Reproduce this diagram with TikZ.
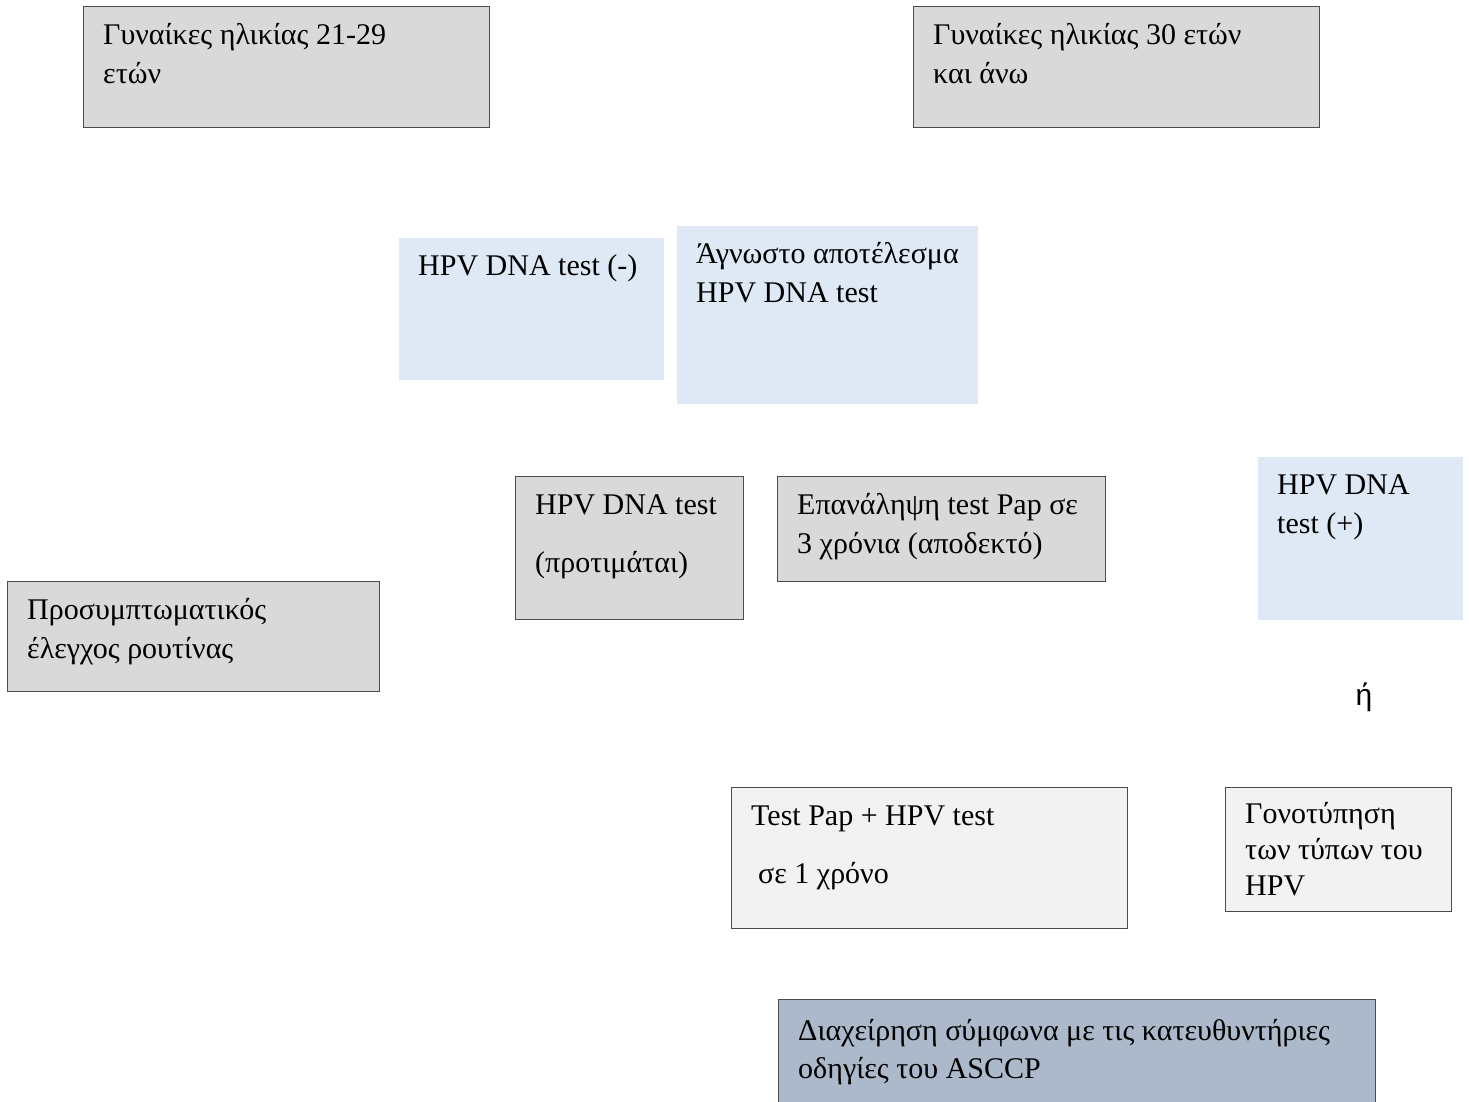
\documentclass[tikz,border=0pt]{standalone}
\usepackage{fontspec}
\setmainfont{Liberation Serif}
\newfontfamily\orfont{Liberation Sans}
\definecolor{boxgrey}{HTML}{D9D9D9}
\definecolor{boxblue}{HTML}{DEE9F5}
\definecolor{boxlight}{HTML}{F2F2F2}
\definecolor{boxslate}{HTML}{ACB9CA}
\tikzset{
  box/.style={anchor=north west, inner sep=0pt, draw=black!70, line width=1pt},
  greybox/.style={box, fill=boxgrey},
  bluebox/.style={box, draw=none, fill=boxblue},
  lightbox/.style={box, fill=boxlight},
  slatebox/.style={box, fill=boxslate},
  boxtext/.style={anchor=north west, align=left, inner sep=0pt, xshift=20pt, yshift=-11pt,
    font=\fontsize{30}{39}\selectfont}
}
\begin{document}
\begin{tikzpicture}[x=1pt,y=1pt]
\clip (0,0) rectangle (1469,-1102);
\fill[white] (0,0) rectangle (1469,-1102);
% age groups
\node[greybox, minimum width=406, minimum height=121,
  label={[boxtext]north west:{\strut Γυναίκες ηλικίας 21-29\\ετών}}] (age21) at (83,-6) {};
\node[greybox, minimum width=406, minimum height=121,
  label={[boxtext]north west:{\strut Γυναίκες ηλικίας 30 ετών\\και άνω}}] (age30) at (913,-6) {};
% HPV results
\node[bluebox, minimum width=265, minimum height=142,
  label={[boxtext]north west:{\strut HPV DNA test (-)}}] (hpvneg) at (398,-237) {};
\node[bluebox, minimum width=301, minimum height=178,
  label={[boxtext]north west:{\strut Άγνωστο αποτέλεσμα\\HPV DNA test}}] (unknown) at (676,-225) {};
\node[greybox, minimum width=228, minimum height=143,
  label={[boxtext]north west:{\strut HPV DNA test\\[19pt](προτιμάται)}}] (hpvpref) at (515,-476) {};
\node[greybox, minimum width=328, minimum height=105,
  label={[boxtext]north west:{\strut Επανάληψη test Pap σε\\3 χρόνια (αποδεκτό)}}] (paprepeat) at (777,-476) {};
\node[bluebox, minimum width=205, minimum height=163,
  label={[boxtext]north west:{\strut HPV DNA\\test (+)}}] (hpvpos) at (1257,-456) {};
\node[greybox, minimum width=372, minimum height=110,
  label={[boxtext]north west:{\strut Προσυμπτωματικός\\έλεγχος ρουτίνας}}] (routine) at (7,-581) {};
\node[font=\orfont\fontsize{30}{36}\selectfont] (or) at (1364,-697) {ή};
% follow-up
\node[lightbox, minimum width=396, minimum height=141,
  label={[boxtext]north west:{\strut Test Pap + HPV test\\[19pt]\hspace{7pt}σε 1 χρόνο}}] (cotest) at (731,-787) {};
\node[lightbox, minimum width=226, minimum height=124,
  label={[boxtext, font=\fontsize{30}{36}\selectfont]north west:{\strut Γονοτύπηση\\των τύπων του\\HPV}}] (genotype) at (1225,-787) {};
\node[slatebox, minimum width=597, minimum height=140,
  label={[boxtext, yshift=-3pt]north west:{\strut Διαχείρηση σύμφωνα με τις κατευθυντήριες\\[-1pt]οδηγίες του ASCCP}}] (asccp) at (778,-999) {};
\end{tikzpicture}
\end{document}
